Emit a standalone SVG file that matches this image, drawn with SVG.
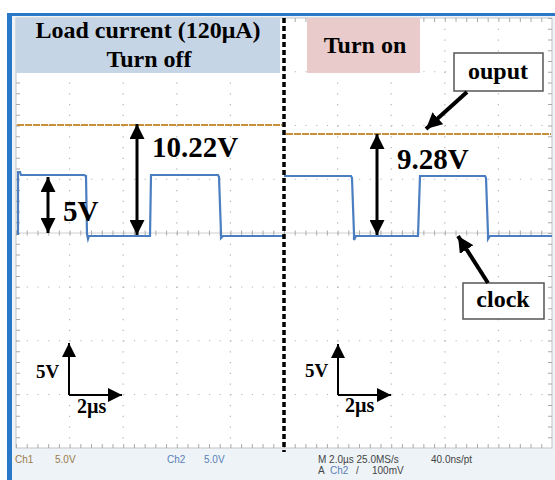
<svg xmlns="http://www.w3.org/2000/svg" width="555" height="480" viewBox="0 0 555 480">
<defs>
<style>
.big{font-family:"Liberation Serif","Times New Roman",serif;font-weight:bold;fill:#000}
.scope{font-family:"Liberation Sans",Arial,sans-serif;font-size:10px}
.dotv{stroke:#b5b5b5;stroke-width:1.2;stroke-dasharray:1.2 9.55}
.doth{stroke:#b5b5b5;stroke-width:1.2;stroke-dasharray:1.2 9.52}
.dbl{stroke:#000;stroke-width:3;fill:none;marker-start:url(#ah);marker-end:url(#ah)}
.ptr{stroke:#000;stroke-width:4;fill:none;marker-end:url(#ahb)}
.scl{stroke:#000;stroke-width:2;fill:none;marker-end:url(#ahs)}
.box{fill:#fff;stroke:#555;stroke-width:1.5}
</style>
<marker id="ah" viewBox="0 0 10 10" refX="10" refY="5" markerUnits="userSpaceOnUse" markerWidth="15" markerHeight="15" orient="auto-start-reverse"><path d="M0,0 L10,5 L0,10 z" fill="#000"/></marker>
<marker id="ahb" viewBox="0 0 10 10" refX="10" refY="5" markerUnits="userSpaceOnUse" markerWidth="16" markerHeight="16" orient="auto"><path d="M0,0 L10,5 L0,10 z" fill="#000"/></marker>
<marker id="ahs" viewBox="0 0 10 10" refX="10" refY="5" markerUnits="userSpaceOnUse" markerWidth="17" markerHeight="14" orient="auto"><path d="M0,0 L10,5 L0,10 z" fill="#000"/></marker>
</defs>
<rect width="555" height="480" fill="#fff"/>
<rect x="7" y="13" width="548" height="467" fill="#eef3f8"/>
<rect x="7" y="13" width="548" height="3" fill="#2a78c8"/>
<rect x="7" y="13" width="5" height="467" fill="#2a78c8"/>
<g id="grid">
<rect x="16" y="18" width="536" height="430" fill="#fff" stroke="#c4c4c4" stroke-width="1"/>
<path class="dotv" d="M69.6,18V448M123.2,18V448M176.8,18V448M230.4,18V448M337.6,18V448M391.2,18V448M444.8,18V448M498.4,18V448"/>
<path class="doth" d="M16,71.75H552M16,125.5H552M16,179.25H552M16,287H552M16,340.75H552M16,394.5H552"/>
<path d="M16,233H552" stroke="#d0d0d0" stroke-width="1"/>
<path d="M16,233H552" stroke="#aaa" stroke-width="5" stroke-dasharray="1 9.72"/>
<path d="M18,18V448M550,18V448" stroke="#aaa" stroke-width="4" stroke-dasharray="1 9.75"/>
<path d="M16,446H552M16,20H552" stroke="#aaa" stroke-width="4" stroke-dasharray="1 9.72"/>
</g>
<g id="title-off">
<rect x="16" y="18" width="264" height="55" fill="#c6d5e5"/>
<text class="big" x="148" y="38" font-size="24" text-anchor="middle">Load current (120μA)</text>
<text class="big" x="149" y="67" font-size="24" text-anchor="middle">Turn off</text>
</g>
<g id="title-on">
<rect x="307" y="18" width="113" height="55" fill="#e9cbcb"/>
<text class="big" x="365" y="53" font-size="24" text-anchor="middle">Turn on</text>
</g>
<g id="traces">
<path d="M17,125H282" stroke="#c8903c" stroke-width="2" stroke-dasharray="7 1"/>
<path d="M286,134H551" stroke="#c8903c" stroke-width="2" stroke-dasharray="7 1"/>
<path d="M18,235L18,172L20,172L21,175L84,175L86,176L87,234L88,239L89,236L150,236L151,175L218,175L219,177L221,233L221,238L223,236L284,236" fill="none" stroke="#4a7ec0" stroke-width="2.2"/>
<path d="M284,176L351,176L352,178L354,234L354,240L356,236L418,236L420,176L485,176L486,178L488,234L488,239L490,236L552,236" fill="none" stroke="#4a7ec0" stroke-width="2.2"/>
</g>
<g id="divider">
<path d="M284,18V452" stroke="#000" stroke-width="3.5" stroke-dasharray="5 3"/>
</g>
<g id="label-output">
<rect class="box" x="454" y="53" width="89" height="38"/>
<text class="big" x="498" y="79" font-size="24" text-anchor="middle">ouput</text>
</g>
<g id="label-clock">
<rect class="box" x="463" y="283" width="81" height="36"/>
<text class="big" x="503" y="307" font-size="24" text-anchor="middle">clock</text>
</g>
<g id="measure-labels">
<text class="big" x="63" y="221" font-size="29">5V</text>
<text class="big" x="152" y="157" font-size="29">10.22V</text>
<text class="big" x="397" y="169" font-size="29">9.28V</text>
</g>
<g id="scale-left">
<text class="big" x="36" y="378" font-size="19">5V</text>
<text class="big" x="77" y="413" font-size="20">2µs</text>
</g>
<g id="scale-right">
<text class="big" x="305" y="377" font-size="19">5V</text>
<text class="big" x="345" y="412" font-size="20">2µs</text>
</g>
<g id="connectors">
<path class="dbl" d="M48,177V233"/>
<path class="dbl" d="M137,124V235"/>
<path class="dbl" d="M377,134V235"/>
<path class="ptr" d="M467,92L426,129"/>
<path class="ptr" d="M488,283L458,236"/>
<path class="scl" d="M69,395V343"/>
<path class="scl" d="M69,395H122"/>
<path class="scl" d="M338,395V344"/>
<path class="scl" d="M338,395H391"/>
</g>
<g id="scope-readout">
<text class="scope" x="15" y="463" fill="#9a7a4a">Ch1</text>
<text class="scope" x="55" y="463" fill="#9a7a4a">5.0V</text>
<text class="scope" x="167" y="463" fill="#5a7fb5">Ch2</text>
<text class="scope" x="204" y="463" fill="#5a7fb5">5.0V</text>
<text class="scope" x="318" y="463" fill="#444">M 2.0µs 25.0MS/s</text>
<text class="scope" x="431" y="463" fill="#444">40.0ns/pt</text>
<text class="scope" x="318" y="474" fill="#444">A</text>
<text class="scope" x="330" y="474" fill="#5a7fb5">Ch2</text>
<text class="scope" x="356" y="474" fill="#444">/</text>
<text class="scope" x="372" y="474" fill="#444">100mV</text>
</g>
</svg>
